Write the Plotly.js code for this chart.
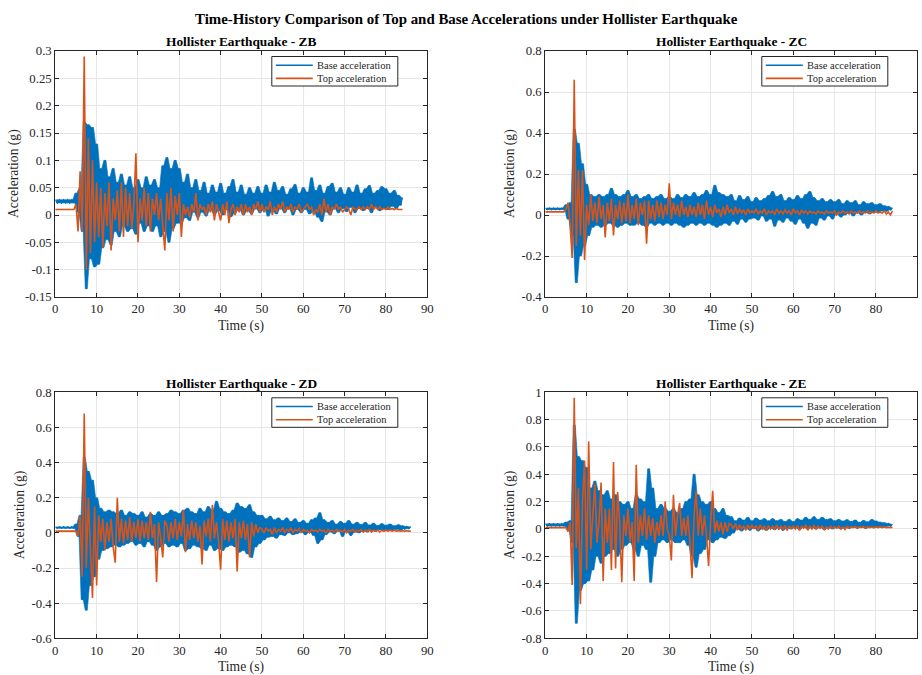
<!DOCTYPE html>
<html><head><meta charset="utf-8">
<script src="https://cdn.plot.ly/plotly-3.0.1.min.js"></script>
<style>html,body{margin:0;padding:0;background:#fff}#chart{width:922px;height:675px}</style>
</head><body><div id="chart"></div>
<script>
// sample spacing of the recorded series (s)
const DT = 0.5;

// ---- ZB ----
const zbBase = [
0.028,0.022,0.028,0.022,0.028,0.022,0.028,0.022,0.028,0.022,
0.04,0.005,0.05,-0.03,0.17,-0.135,0.165,-0.08,0.16,-0.095,
0.13,-0.09,0.085,-0.06,0.1,-0.045,0.07,-0.055,0.085,-0.03,
0.06,-0.04,0.075,-0.02,0.055,-0.03,0.07,-0.025,0.05,-0.035,
0.065,-0.015,0.05,-0.03,0.07,-0.02,0.055,-0.03,0.065,-0.02,
0.05,-0.04,0.09,-0.03,0.105,-0.05,0.085,-0.025,0.1,-0.015,
0.085,-0.015,0.06,-0.005,0.075,-0.01,0.05,0.005,0.065,-0.005,
0.045,0.005,0.06,-0.002,0.04,0.01,0.055,0.0,0.042,0.008,
0.058,0.0,0.04,0.01,0.052,-0.003,0.065,0.004,0.042,0.01,
0.055,0.0,0.038,0.008,0.05,0.002,0.04,0.012,0.052,0.004,
0.04,0.01,0.055,-0.002,0.042,0.008,0.06,0.002,0.045,0.012,
0.052,0.004,0.038,0.012,0.048,0.0,0.056,0.01,0.04,0.004,
0.05,0.01,0.042,0.002,0.068,0.006,0.045,-0.004,0.055,-0.012,
0.04,0.006,0.052,0.0,0.058,0.012,0.042,0.004,0.05,0.012,
0.038,0.006,0.05,0.014,0.042,0.004,0.055,0.012,0.04,0.008,
0.048,0.012,0.054,0.004,0.04,0.014,0.045,0.008,0.052,0.012,
0.048,0.01,0.04,0.016,0.045,0.012,0.036,0.018,0.032];
const zbTop = [
0.01,0.01,0.01,0.01,0.01,0.01,0.01,0.01,0.01,0.01,
0.02,-0.03,0.08,-0.03,0.29,-0.1,0.14,-0.07,0.1,-0.05,
0.06,-0.04,0.05,-0.06,0.04,-0.02,0.06,-0.065,0.03,-0.01,
0.045,-0.03,0.06,-0.04,0.05,-0.02,0.04,-0.025,0.02,0.113,
-0.05,0.03,-0.01,0.05,-0.02,0.04,-0.03,0.03,0.0,0.04,
-0.01,0.03,-0.02,-0.065,0.04,-0.01,0.05,-0.03,0.035,0.0,
0.04,-0.04,0.02,0.0,0.015,-0.005,0.02,0.005,0.04,-0.01,
0.02,0.01,0.015,0.0,0.02,0.005,0.025,-0.01,0.02,0.005,
-0.01,0.02,0.0,0.025,-0.015,0.01,0.02,0.0,0.015,0.005,
0.02,0.0,0.02,0.005,0.015,0.0,0.02,0.01,0.025,0.005,
0.02,0.005,0.015,0.01,0.025,0.0,0.015,0.005,0.02,0.01,
0.025,0.005,0.015,0.01,0.02,0.005,0.015,0.01,0.02,0.005,
0.01,0.015,0.02,0.01,0.015,0.0,0.01,0.005,0.02,0.0,
0.03,0.005,0.02,0.0,0.015,0.01,0.02,0.01,0.015,0.005,
0.01,0.015,0.01,0.0,0.015,0.01,0.01,0.015,0.01,0.015,
0.01,0.015,0.01,0.02,0.01,0.015,0.01,0.015,0.01,0.012,
0.01,0.015,0.01,0.012,0.01,0.012,0.01,0.01,0.01];

// ---- ZC ----
const zcBase = [
0.034,0.026,0.034,0.026,0.034,0.026,0.034,0.026,0.034,0.026,
0.05,-0.02,0.06,-0.1,0.42,-0.33,0.35,-0.2,0.25,-0.15,
0.15,-0.1,0.1,-0.06,0.09,-0.05,0.1,-0.06,0.09,-0.05,
0.1,-0.04,0.13,-0.05,0.1,-0.06,0.09,-0.05,0.1,-0.04,
0.12,-0.05,0.09,-0.05,0.1,-0.04,0.08,-0.05,0.09,-0.06,
0.1,-0.04,0.08,-0.05,0.09,-0.04,0.1,-0.05,0.08,-0.04,
0.09,-0.05,0.08,-0.04,0.1,-0.05,0.085,-0.06,0.1,-0.05,
0.09,-0.04,0.11,-0.05,0.09,-0.04,0.1,-0.05,0.12,-0.04,
0.1,-0.05,0.145,-0.06,0.11,-0.05,0.1,-0.04,0.09,-0.05,
0.1,-0.03,0.07,-0.045,0.095,-0.02,0.075,-0.035,0.09,-0.02,
0.065,-0.015,0.085,-0.025,0.07,-0.005,0.08,-0.03,0.095,-0.02,
0.115,-0.055,0.09,-0.025,0.1,-0.035,0.07,-0.015,0.085,-0.03,
0.075,-0.045,0.095,-0.02,0.08,-0.04,0.1,-0.065,0.115,-0.04,
0.085,-0.05,0.07,-0.015,0.08,-0.025,0.065,-0.005,0.075,-0.02,
0.065,0.005,0.075,-0.01,0.055,0.0,0.07,0.01,0.06,-0.005,
0.07,0.01,0.05,0.0,0.065,0.012,0.055,0.005,0.06,0.015,
0.05,0.012,0.055,0.02,0.045,0.018,0.042,0.025,0.035];
const zcTop = [
0.015,0.015,0.015,0.015,0.015,0.015,0.015,0.015,0.015,0.015,
0.03,0.06,-0.05,-0.21,0.66,-0.15,0.22,-0.1,0.22,-0.22,
0.05,-0.05,0.1,-0.03,0.06,-0.04,0.09,-0.02,0.05,-0.11,
0.06,-0.03,0.08,-0.1,0.05,-0.02,0.07,-0.04,0.06,-0.03,
0.1,-0.04,0.05,-0.02,0.08,-0.05,0.06,0.0,0.07,-0.14,
0.07,-0.02,0.05,-0.03,0.07,-0.01,0.06,-0.02,0.05,0.0,
0.155,-0.02,0.06,0.0,0.05,-0.01,0.07,0.0,0.04,-0.01,
0.05,0.0,0.04,-0.01,0.06,0.0,0.05,-0.02,0.07,0.0,
0.04,-0.01,0.05,0.01,0.03,-0.01,0.04,0.0,0.05,0.01,
0.03,0.0,0.04,0.005,0.03,0.01,0.025,0.0,0.03,0.01,
0.02,0.01,0.03,0.005,0.02,0.01,0.03,0.0,0.02,0.01,
0.02,0.0,0.03,0.01,0.02,0.005,0.025,0.01,0.02,0.0,
0.03,0.01,0.02,0.0,0.025,0.01,0.02,0.005,0.02,0.01,
0.015,0.005,0.02,0.01,0.015,0.005,0.02,0.01,0.015,0.01,
0.02,0.0,0.015,0.01,0.02,0.01,0.015,0.005,0.02,0.01,
0.015,0.01,0.02,0.01,0.015,0.01,0.02,0.01,0.015,0.01,
0.02,0.01,0.015,0.01,0.02,0.005,0.015,0.0,0.02];

// ---- ZD ----
const zdBase = [
0.034,0.026,0.034,0.026,0.034,0.026,0.034,0.026,0.034,0.026,
0.05,-0.02,0.1,-0.38,0.43,-0.44,0.35,-0.3,0.3,-0.25,
0.2,-0.15,0.14,-0.1,0.12,-0.09,0.13,-0.08,0.12,-0.07,
0.11,-0.08,0.13,-0.07,0.1,-0.06,0.12,-0.05,0.11,-0.07,
0.1,-0.06,0.12,-0.08,0.09,-0.05,0.11,-0.07,0.1,-0.1,
0.12,-0.08,0.1,-0.06,0.11,-0.08,0.13,-0.07,0.12,-0.08,
0.11,-0.06,0.13,-0.1,0.14,-0.09,0.12,-0.07,0.11,-0.08,
0.14,-0.09,0.12,-0.1,0.15,-0.07,0.13,-0.1,0.18,-0.09,
0.14,-0.1,0.12,-0.08,0.11,-0.07,0.13,-0.08,0.17,-0.11,
0.15,-0.1,0.14,-0.12,0.16,-0.14,0.12,-0.08,0.1,-0.06,
0.1,-0.04,0.08,-0.025,0.095,-0.02,0.075,-0.03,0.085,-0.01,
0.07,-0.015,0.085,0.0,0.065,-0.01,0.08,-0.005,0.06,0.005,
0.07,-0.01,0.055,0.005,0.075,-0.015,0.085,-0.06,0.115,-0.04,
0.075,-0.01,0.06,0.005,0.07,-0.005,0.05,0.01,0.065,-0.02,
0.055,0.01,0.07,-0.015,0.05,0.005,0.06,0.0,0.048,0.012,
0.06,0.005,0.045,0.015,0.055,0.008,0.042,0.018,0.052,0.01,
0.044,0.018,0.05,0.012,0.04,0.02,0.046,0.016,0.04,0.022,
0.036,0.024,0.035];
const zdTop = [
0.01,0.01,0.01,0.01,0.01,0.01,0.01,0.01,0.01,0.01,
0.01,-0.02,0.1,-0.25,0.68,-0.2,0.2,-0.1,-0.37,0.15,
-0.3,0.1,-0.05,0.08,-0.1,0.06,-0.05,0.08,-0.08,-0.17,
0.2,-0.05,0.08,-0.06,0.07,-0.04,0.09,-0.05,0.06,-0.03,
0.08,-0.05,0.07,-0.03,0.06,-0.04,0.12,-0.03,0.05,-0.28,
0.06,-0.03,-0.14,0.07,0.04,-0.05,0.06,-0.03,0.08,-0.04,
0.06,-0.02,0.13,-0.11,0.05,-0.04,0.07,-0.03,0.06,-0.05,
0.04,-0.18,0.07,-0.02,0.08,-0.05,0.16,-0.03,0.06,-0.05,
-0.21,0.08,-0.04,0.07,-0.05,0.06,-0.03,0.08,-0.22,0.06,
-0.03,0.07,-0.04,0.05,-0.14,0.06,-0.02,0.05,0.0,0.03,
0.02,0.0,0.03,0.01,0.02,-0.01,0.03,0.0,0.02,0.01,
0.03,0.0,0.02,0.01,0.03,0.0,0.02,0.01,0.025,0.0,
0.02,0.01,0.015,0.0,0.02,0.01,0.015,0.005,0.02,0.01,
0.015,0.0,0.02,0.01,0.015,0.005,0.02,0.01,0.015,0.005,
0.02,0.0,0.015,0.01,0.02,0.005,0.015,0.01,0.02,0.005,
0.015,0.01,0.02,0.005,0.015,0.01,0.015,0.005,0.015,0.01,
0.015,0.01,0.015,0.01,0.015,0.01,0.012,0.01,0.012,0.01,
0.012,0.01,0.01];

// ---- ZE ----
const zeBase = [
0.038,0.022,0.038,0.022,0.038,0.022,0.038,0.022,0.038,0.022,
0.05,0.0,0.06,-0.1,0.76,-0.69,0.53,-0.45,0.5,-0.4,
0.45,-0.38,0.3,-0.3,0.35,-0.2,0.28,-0.25,0.25,-0.2,
0.28,-0.18,0.22,-0.15,0.25,-0.2,0.2,-0.15,0.18,-0.12,
0.2,-0.1,0.15,-0.15,0.25,-0.2,0.22,-0.12,0.2,-0.15,
0.44,-0.39,0.3,-0.2,0.15,-0.1,0.18,-0.08,0.15,-0.1,
0.13,-0.08,0.15,-0.1,0.12,-0.1,0.15,-0.08,0.2,-0.12,
0.22,-0.2,0.4,-0.28,0.25,-0.18,0.2,-0.15,0.18,-0.08,
0.2,-0.1,0.15,-0.08,0.12,-0.06,0.15,-0.07,0.1,-0.05,
0.09,-0.03,0.06,0.0,0.08,-0.015,0.065,0.005,0.085,-0.01,
0.06,0.005,0.08,-0.015,0.065,0.0,0.075,-0.01,0.06,0.005,
0.075,-0.005,0.06,0.01,0.07,-0.01,0.055,0.005,0.07,0.0,
0.055,0.01,0.075,-0.005,0.065,0.01,0.085,0.0,0.07,0.01,
0.09,0.0,0.07,0.01,0.085,-0.005,0.07,0.01,0.075,0.0,
0.06,0.01,0.07,0.0,0.058,0.012,0.068,0.004,0.055,0.012,
0.065,0.006,0.05,0.014,0.062,0.004,0.052,0.012,0.07,0.008,
0.058,0.016,0.05,0.014,0.046,0.02,0.04,0.022,0.035];
const zeTop = [
0.01,0.01,0.01,0.01,0.01,0.01,0.01,0.01,0.01,0.01,
0.01,-0.02,0.05,-0.41,0.96,-0.14,0.3,-0.55,0.2,0.5,
-0.3,0.64,-0.15,0.1,0.33,-0.1,0.05,0.34,-0.38,0.15,
-0.1,0.15,-0.3,0.49,-0.29,0.27,0.05,-0.39,0.1,-0.05,
0.15,-0.1,0.05,-0.38,0.47,-0.1,0.1,-0.05,0.15,-0.08,
0.1,-0.05,0.08,-0.1,0.05,-0.05,0.1,-0.05,0.2,0.0,
-0.05,-0.23,0.25,-0.05,0.1,0.19,-0.05,0.08,-0.05,0.1,
-0.1,-0.36,0.1,0.28,-0.05,0.15,-0.05,0.1,-0.05,-0.27,
0.05,0.28,-0.03,0.06,-0.02,0.05,-0.04,0.05,-0.02,0.04,
0.03,0.0,0.04,-0.01,0.03,0.0,0.02,-0.01,0.03,0.0,
0.03,0.0,0.025,-0.01,0.03,0.0,0.02,-0.01,0.025,0.0,
0.02,0.0,0.03,-0.005,0.02,0.0,0.025,-0.01,0.02,0.005,
0.02,0.0,0.025,-0.01,0.02,0.005,0.03,-0.01,0.02,0.0,
0.025,0.0,0.02,0.005,0.02,-0.005,0.015,0.0,0.02,0.005,
0.015,0.005,0.02,0.0,0.015,-0.005,0.02,0.005,0.015,0.01,
0.02,0.005,0.015,0.01,0.02,0.005,0.015,0.01,0.015,0.01,
0.015,0.01,0.015,0.01,0.015,0.01,0.012,0.01,0.012];

// ---- tick labels ----
const xTickVals = [0,10,20,30,40,50,60,70,80,90];
const xTickText = ['0','10','20','30','40','50','60','70','80','90'];
const zbTickVals = [-0.15,-0.1,-0.05,0,0.05,0.1,0.15,0.2,0.25,0.3];
const zbTickText = ['-0.15','-0.1','-0.05','0','0.05','0.1','0.15','0.2','0.25','0.3'];
const zcTickVals = [-0.4,-0.2,0,0.2,0.4,0.6,0.8];
const zcTickText = ['-0.4','-0.2','0','0.2','0.4','0.6','0.8'];
const zdTickVals = [-0.6,-0.4,-0.2,0,0.2,0.4,0.6,0.8];
const zdTickText = ['-0.6','-0.4','-0.2','0','0.2','0.4','0.6','0.8'];
const zeTickVals = [-0.8,-0.6,-0.4,-0.2,0,0.2,0.4,0.6,0.8,1];
const zeTickText = ['-0.8','-0.6','-0.4','-0.2','0','0.2','0.4','0.6','0.8','1'];

const seriesNames = ['Base acceleration','Top acceleration'];
const panelNames = ['ZB','ZC','ZD','ZE'];
const mainTitle = 'Time-History Comparison of Top and Base Accelerations under Hollister Earthquake';
const subTitlePrefix = 'Hollister Earthquake - ';

// ---- layout geometry (pixels) ----
const W = 922, H = 675;
const FONT = 'Liberation Serif, Times New Roman, serif';
const INK = '#262626';
const BLUE = '#0072BD', ORANGE = '#D95319';
const colors = [BLUE, ORANGE];

const panels = [
  {base: zbBase, top: zbTop, tv: zbTickVals, tt: zbTickText, yr: [-0.15,0.3], px: [55.3,427.3], py: [51,297], ytx: 14},
  {base: zcBase, top: zcTop, tv: zcTickVals, tt: zcTickText, yr: [-0.4,0.8], px: [545.3,917.3], py: [51,297], ytx: 510},
  {base: zdBase, top: zdTop, tv: zdTickVals, tt: zdTickText, yr: [-0.6,0.8], px: [55.3,427.3], py: [392.3,638.3], ytx: 20},
  {base: zeBase, top: zeTop, tv: zeTickVals, tt: zeTickText, yr: [-0.8,1], px: [545.3,917.3], py: [392.3,638.3], ytx: 510}
];

const fx = px => px / W;
const fy = py => 1 - py / H;

// dense-oscillation band of a sampled signal: pairwise max forward, pairwise min backward
function bandOf(t, v) {
  const tx = [], up = [], lo = [];
  for (let i = 0; i < v.length - 1; i++) {
    tx.push((t[i] + t[i + 1]) / 2);
    up.push(Math.max(v[i], v[i + 1]));
    lo.push(Math.min(v[i], v[i + 1]));
  }
  return {x: tx.concat(tx.slice().reverse()), y: up.concat(lo.slice().reverse())};
}

const traces = [];
const layout = {
  width: W, height: H,
  margin: {l:0, r:0, t:0, b:0},
  paper_bgcolor: '#fff', plot_bgcolor: '#fff',
  font: {family: FONT, color: INK, size: 12},
  showlegend: false,
  annotations: [],
  shapes: []
};

panels.forEach((p, k) => {
  const n = k + 1;
  const sfx = n === 1 ? '' : String(n);
  const xa = 'x' + sfx, ya = 'y' + sfx;
  const tB = p.base.map((_, i) => i * DT);
  const tT = p.top.map((_, i) => i * DT);
  const b = bandOf(tB, p.base);
  traces.push({x: b.x, y: b.y, type: 'scatter', mode: 'lines', fill: 'toself', fillcolor: BLUE,
    name: seriesNames[0], xaxis: xa, yaxis: ya, line: {color: BLUE, width: 0.6, simplify: false}, hoverinfo: 'skip'});
  traces.push({x: tB, y: p.base, type: 'scatter', mode: 'lines', name: seriesNames[0],
    xaxis: xa, yaxis: ya, line: {color: BLUE, width: 1.3, simplify: false}, hoverinfo: 'skip'});
  traces.push({x: tT, y: p.top, type: 'scatter', mode: 'lines', name: seriesNames[1],
    xaxis: xa, yaxis: ya, line: {color: ORANGE, width: 1.6, simplify: false}, hoverinfo: 'skip'});

  const common = {showline: true, linecolor: INK, linewidth: 1, mirror: 'ticks', ticks: 'inside',
    ticklen: 4, tickcolor: INK, tickwidth: 1, showgrid: true, gridcolor: '#e6e6e6', gridwidth: 1,
    zeroline: false, tickfont: {family: FONT, size: 12.8, color: INK}, fixedrange: true};
  layout['xaxis' + sfx] = Object.assign({}, common, {
    domain: [fx(p.px[0]), fx(p.px[1])], anchor: ya, range: [0, 90],
    tickmode: 'array', tickvals: xTickVals, ticktext: xTickText});
  layout['yaxis' + sfx] = Object.assign({}, common, {
    domain: [fy(p.py[1]), fy(p.py[0])], anchor: xa, range: p.yr,
    tickmode: 'array', tickvals: p.tv, ticktext: p.tt});

  // legend box (MATLAB-style, drawn in paper space)
  const lr = p.px[1] - 29.5, ll = lr - 126, lt = p.py[0] + 5.5, lb = lt + 29.5;
  layout.shapes.push({type: 'rect', xref: 'paper', yref: 'paper', x0: fx(ll), x1: fx(lr), y0: fy(lb), y1: fy(lt),
    line: {color: INK, width: 1}, fillcolor: '#fff', layer: 'above'});
  seriesNames.forEach((nm, j) => {
    const ry = lt + 8.7 + j * 13.2;
    layout.shapes.push({type: 'line', xref: 'paper', yref: 'paper', x0: fx(ll + 4), x1: fx(ll + 41),
      y0: fy(ry), y1: fy(ry), line: {color: colors[j], width: 1.6}, layer: 'above'});
    layout.annotations.push({text: nm, xref: 'paper', yref: 'paper', x: fx(ll + 43.5), y: fy(ry),
      xanchor: 'left', yanchor: 'middle', showarrow: false,
      font: {family: FONT, size: 10.5, color: INK}});
  });

  const cx = (p.px[0] + p.px[1]) / 2;
  layout.annotations.push({text: '<b>' + subTitlePrefix + panelNames[k] + '</b>', xref: 'paper', yref: 'paper',
    x: fx(cx), y: fy(p.py[0] - 9), xanchor: 'center', yanchor: 'middle', showarrow: false,
    font: {family: FONT, size: 13.4, color: '#000'}});
  layout.annotations.push({text: 'Time (s)', xref: 'paper', yref: 'paper',
    x: fx(cx), y: fy(p.py[1] + 29), xanchor: 'center', yanchor: 'middle', showarrow: false,
    font: {family: FONT, size: 13.6, color: INK}});
  layout.annotations.push({text: 'Acceleration (g)', xref: 'paper', yref: 'paper', textangle: -90,
    x: fx(p.ytx), y: fy((p.py[0] + p.py[1]) / 2), xanchor: 'center', yanchor: 'middle', showarrow: false,
    font: {family: FONT, size: 13.6, color: INK}});
});

layout.annotations.push({text: '<b>' + mainTitle + '</b>', xref: 'paper', yref: 'paper',
  x: fx(466), y: fy(18.5), xanchor: 'center', yanchor: 'middle', showarrow: false,
  font: {family: FONT, size: 14.9, color: '#000'}});

Plotly.newPlot('chart', traces, layout, {staticPlot: true, displayModeBar: false});
</script></body></html>
